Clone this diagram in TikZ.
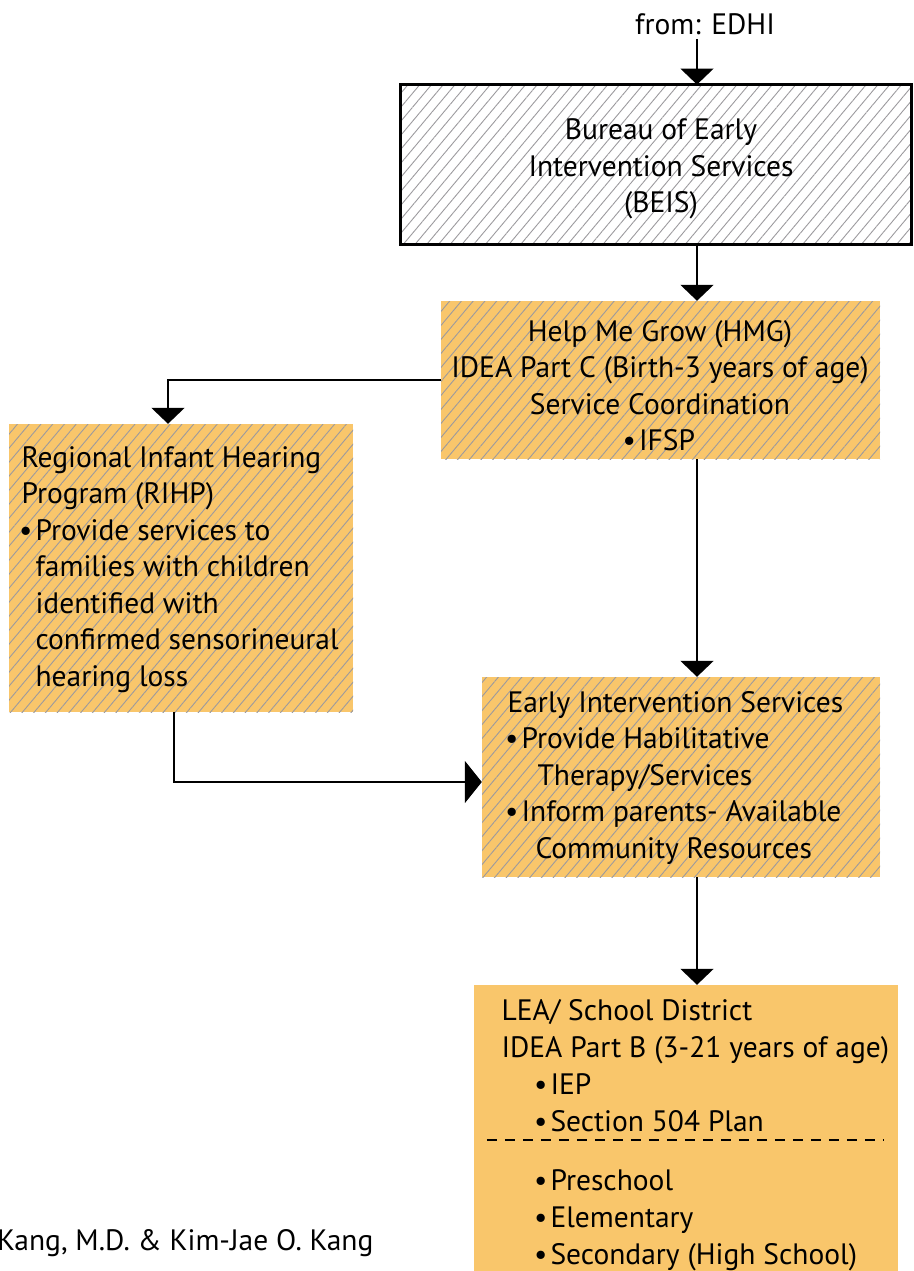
\documentclass[tikz,border=0pt]{standalone}
\usepackage{fontspec}
\setmainfont{PT Sans}
\usepackage{tikz}
\usetikzlibrary{arrows.meta,positioning,calc,patterns.meta}
\definecolor{panel}{HTML}{F9C66B}
\definecolor{hatch}{HTML}{9C9A9E}
\newcommand{\bul}{\makebox[14pt][l]{\hspace*{-2.5pt}\textbullet}}

\begin{document}
\begin{tikzpicture}[x=1pt, y=-1pt,
  lbl/.style={font=\fontsize{29.5}{36.5}\selectfont},
  hatched/.style={pattern={Lines[angle=50, distance=9pt, line width=0.9pt]}, pattern color=hatch},
  orange box/.style={preaction={fill=panel}, hatched, inner sep=0pt},
  link/.style={line width=2pt},
  down tip/.style={-{Triangle[length=16pt, width=33pt]}},
  side tip/.style={-{Triangle[length=17pt, width=42pt]}}]
  \useasboundingbox (0,0) rectangle (913,1271);
  \coordinate (spine) at (697,0);

  % Source and bureau
  \node[lbl, inner sep=4pt] (edhi) at (705,24) {from: EDHI};
  \node[draw, line width=3pt, hatched, minimum width=511pt, minimum height=159pt] (beis) at (655.5,164.5) {};
  \node[lbl, align=center] (beistxt) at (661,169) {Bureau of Early\\Intervention Services\\(BEIS)};

  % Help Me Grow
  \node[orange box, minimum width=439pt, minimum height=158pt] (hmg) at (660.5,380) {};
  \node[lbl, align=center] (hmgtxt) at (660,385.5) {Help Me Grow (HMG)\\IDEA Part C (Birth-3 years of age)\\Service Coordination\\\bul IFSP};

  % Regional program
  \node[orange box, minimum width=344pt, minimum height=288pt] (rihp) at (181,568) {};
  \node[lbl, anchor=west, align=left] (rihptxt) at (18,569.5) {Regional Infant Hearing\\Program (RIHP)\\\bul Provide services to\\\hspace*{14pt}families with children\\\hspace*{14pt}identified with\\\hspace*{14pt}confirmed sensorineural\\\hspace*{14pt}hearing loss};

  % Early intervention
  \node[orange box, minimum width=398pt, minimum height=200pt] (eis) at (681,777) {};
  \node[lbl, anchor=west, align=left] (eistxt) at (504,778) {Early Intervention Services\\\bul Provide Habilitative\\\hspace*{30pt}Therapy/Services\\\bul Inform parents- Available\\\hspace*{28pt}Community Resources};

  % School district
  \node[fill=panel, inner sep=0pt, minimum width=424pt, minimum height=295pt] (lea) at (686,1132.5) {};
  \node[font=\fontsize{29.5}{37}\selectfont, anchor=west, align=left] (leatxt) at (498,1135) {LEA/ School District\\IDEA Part B (3-21 years of age)\\\hspace*{35pt}\bul IEP\\\hspace*{35pt}\bul Section 504 Plan\\[22pt]\hspace*{35pt}\bul Preschool\\\hspace*{35pt}\bul Elementary\\\hspace*{35pt}\bul Secondary (High School)};
  \draw[line width=2pt, dash pattern=on 10pt off 8pt] ($(lea.north west)+(13,155)$) -- ($(lea.north east)+(-15,155)$);

  % Credit line
  \node[lbl, anchor=west, inner sep=0pt] (credit) at (-3,1243) {Kang, M.D. \& Kim-Jae O. Kang};

  % Connectors
  \draw[link, down tip] (edhi.south -| spine) -- (beis.north -| spine);
  \draw[link, down tip] (beis.south -| spine) -- (hmg.north -| spine);
  \draw[link, down tip] (hmg.west) -| ([xshift=-13pt]rihp.north);
  \draw[link, down tip] (hmg.south -| spine) -- (eis.north -| spine);
  \draw[link, side tip] ([xshift=-7pt]rihp.south) |- ([yshift=-5pt]eis.west);
  \draw[link, down tip] (eis.south -| spine) -- (lea.north -| spine);
\end{tikzpicture}
\end{document}
